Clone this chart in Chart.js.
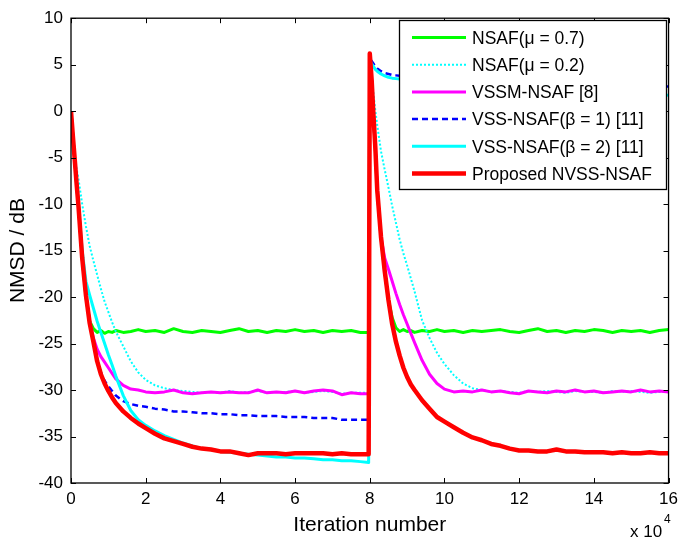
<!DOCTYPE html>
<html><head><meta charset="utf-8">
<script src="https://cdn.jsdelivr.net/npm/chart.js@4"></script>
<style>html,body{margin:0;padding:0;background:#fff}canvas{display:block}</style>
</head><body>
<canvas id="c" width="684" height="546"></canvas>
<script>
// Iteration number (x 10^4)
const xIter = [
 0, 0.05, 0.1, 0.15, 0.2, 0.3, 0.4, 0.5, 0.6, 0.7, 0.8, 0.9, 1.0, 1.1, 1.2, 1.4, 1.6, 1.8, 2.0, 2.25, 2.5, 2.75,
 3.0, 3.25, 3.5, 3.75, 4.0, 4.25, 4.5, 4.75, 5.0, 5.25, 5.5, 5.75, 6.0, 6.25, 6.5, 6.75, 7.0, 7.25, 7.5, 7.75, 7.97,
 8.0, 8.05, 8.1, 8.15, 8.2, 8.3, 8.4, 8.5, 8.6, 8.7, 8.8, 8.9, 9.0, 9.1, 9.2, 9.4, 9.6, 9.8, 10.0, 10.25, 10.5, 10.75,
 11.0, 11.25, 11.5, 11.75, 12.0, 12.25, 12.5, 12.75, 13.0, 13.25, 13.5, 13.75, 14.0, 14.25, 14.5, 14.75, 15.0, 15.25, 15.5, 15.75, 16.0
];
// NMSD (dB)
const nsaf07 = [
 0, -2.7, -5.2, -7.8, -10.2, -15.8, -20.0, -22.6, -23.4, -23.8, -23.6, -23.9, -23.7, -23.8, -23.6, -23.8, -23.7, -23.5, -23.7, -23.6, -23.8, -23.4,
 -23.7, -23.8, -23.6, -23.7, -23.8, -23.6, -23.4, -23.7, -23.6, -23.8, -23.6, -23.7, -23.5, -23.7, -23.6, -23.8, -23.6, -23.7, -23.6, -23.8, -23.8,
 6.0, 3.2, -0.7, -4.2, -8.6, -13.6, -17.3, -20.3, -22.2, -23.3, -23.7, -23.5, -23.7, -23.6, -23.8, -23.6, -23.7, -23.5, -23.7, -23.6, -23.8, -23.6,
 -23.7, -23.6, -23.5, -23.7, -23.8, -23.6, -23.4, -23.7, -23.6, -23.8, -23.6, -23.7, -23.5, -23.6, -23.8, -23.6, -23.7, -23.6, -23.8, -23.6, -23.5
];
const nsaf02 = [
 0, -3.2, -4.9, -6.2, -7.3, -10.0, -12.4, -14.5, -16.1, -17.6, -19.1, -20.5, -21.6, -22.7, -23.7, -25.3, -26.9, -28.1, -28.9, -29.5, -29.8, -30.0,
 -30.1, -30.2, -30.3, -30.2, -30.3, -30.1, -30.3, -30.2, -30.1, -30.3, -30.2, -30.2, -30.1, -30.3, -30.2, -30.1, -30.2, -30.4, -30.3, -30.3, -30.3,
 6.0, 4.0, 1.8, 0.0, -1.5, -4.3, -6.3, -8.2, -10.2, -12.0, -13.8, -15.3, -16.6, -18.0, -19.4, -22.5, -24.4, -26.0, -27.2, -28.4, -29.3, -29.8,
 -30.0, -30.2, -30.1, -30.2, -30.3, -30.1, -30.2, -30.1, -30.2, -30.3, -30.1, -30.2, -30.2, -30.3, -30.1, -30.2, -30.1, -30.2, -30.3, -30.2, -30.2
];
const vssm = [
 0, -2.7, -5.2, -7.8, -10.2, -15.8, -19.8, -22.7, -24.4, -25.6, -26.4, -27.0, -27.6, -28.2, -28.8, -29.5, -29.9, -30.0, -30.2, -30.3, -30.2, -30.0,
 -30.3, -30.4, -30.3, -30.2, -30.3, -30.2, -30.3, -30.3, -30.0, -30.3, -30.2, -30.3, -30.1, -30.3, -30.1, -30.0, -30.1, -30.5, -30.3, -30.4, -30.4,
 6.0, 3.3, -0.6, -4.1, -8.5, -13.5, -15.8, -17.0, -18.3, -19.6, -20.8, -21.9, -22.9, -23.9, -24.9, -26.8, -28.3, -29.3, -29.9, -30.2, -30.1, -30.2,
 -30.0, -30.2, -30.1, -30.3, -30.4, -30.1, -30.2, -30.3, -30.1, -30.2, -30.0, -30.2, -30.1, -30.3, -30.2, -30.1, -30.2, -30.0, -30.2, -30.1, -30.2
];
const vssB1 = [
 0, -2.7, -5.2, -7.8, -10.2, -15.8, -19.8, -22.8, -24.8, -26.8, -28.1, -29.0, -29.6, -30.1, -30.6, -31.2, -31.5, -31.7, -31.8, -32.0, -32.1, -32.3,
 -32.3, -32.4, -32.5, -32.5, -32.6, -32.6, -32.7, -32.7, -32.8, -32.8, -32.8, -32.9, -32.9, -32.9, -33.0, -33.0, -33.0, -33.2, -33.2, -33.2, -33.2,
 5.6, 5.4, 5.1, 4.8, 4.6, 4.3, 4.1, 4.0, 3.9, 3.85, 3.8, 3.8, 3.75, 3.7, 3.7, 3.6, 3.55, 3.5, 3.45, 3.4, 3.35, 3.3,
 3.25, 3.2, 3.15, 3.1, 3.05, 3.0, 3.0, 2.95, 2.9, 2.9, 2.85, 2.85, 2.8, 2.8, 2.75, 2.75, 2.7, 2.7, 2.7, 2.65, 2.65
];
const vssB2 = [
 0, -2.7, -5.2, -7.8, -10.2, -15.0, -18.3, -19.8, -21.2, -22.6, -23.8, -25.0, -26.2, -27.3, -28.5, -30.6, -32.2, -33.2, -33.8, -34.4, -34.9, -35.3,
 -35.7, -36.0, -36.3, -36.4, -36.6, -36.7, -36.8, -36.9, -37.0, -37.1, -37.2, -37.2, -37.3, -37.3, -37.4, -37.5, -37.5, -37.6, -37.6, -37.7, -37.8,
 5.4, 5.1, 4.8, 4.5, 4.3, 4.0, 3.8, 3.65, 3.55, 3.5, 3.45, 3.4, 3.35, 3.3, 3.25, 3.15, 3.05, 3.0, 2.9, 2.85, 2.8, 2.7,
 2.65, 2.6, 2.55, 2.5, 2.45, 2.4, 2.35, 2.3, 2.3, 2.25, 2.2, 2.15, 2.1, 2.1, 2.05, 2.0, 2.0, 1.95, 1.9, 1.9, 1.7
];
const proposed = [
 0, -2.7, -5.2, -7.8, -10.2, -15.8, -19.8, -22.8, -24.8, -26.9, -28.3, -29.3, -30.1, -30.8, -31.4, -32.3, -33.0, -33.6, -34.1, -34.7, -35.2, -35.5,
 -35.8, -36.1, -36.3, -36.4, -36.6, -36.6, -36.8, -37.0, -36.8, -36.8, -36.8, -36.9, -36.8, -36.8, -36.8, -36.8, -36.9, -36.8, -36.9, -36.9, -36.9,
 6.2, 3.4, -0.5, -4.0, -8.5, -13.5, -17.2, -20.3, -22.9, -24.8, -26.3, -27.6, -28.6, -29.4, -30.0, -31.1, -32.0, -32.9, -33.4, -34.0, -34.6, -35.1,
 -35.4, -35.8, -36.0, -36.3, -36.5, -36.5, -36.6, -36.6, -36.4, -36.6, -36.6, -36.7, -36.7, -36.7, -36.8, -36.7, -36.8, -36.8, -36.7, -36.8, -36.8
];
const seriesNames = ['NSAF(\u03bc = 0.7)', 'NSAF(\u03bc = 0.2)', 'VSSM-NSAF [8]', 'VSS-NSAF(\u03b2 = 1) [11]', 'VSS-NSAF(\u03b2 = 2) [11]', 'Proposed NVSS-NSAF'];
const seriesData = [nsaf07, nsaf02, vssm, vssB1, vssB2, proposed];
const xAxisTitle = 'Iteration number';
const yAxisTitle = 'NMSD / dB';
const xExponent = '4';

const FONT = '"Liberation Sans", Arial, Helvetica, sans-serif';
const styles = [
  {color:'#00ff00', width:3,   dash:[],    order:5},
  {color:'#00ffff', width:2,   dash:[2,2], order:4},
  {color:'#ff00ff', width:3,   dash:[],    order:3},
  {color:'#0000ff', width:2.5, dash:[6,4], order:2},
  {color:'#00ffff', width:3,   dash:[],    order:1},
  {color:'#ff0000', width:4.5, dash:[],    order:0}
];

const frame = {
  id: 'frame',
  afterDraw(chart) {
    const {ctx, chartArea: a, scales: {x, y}} = chart;
    ctx.save();
    // box
    ctx.strokeStyle = '#000';
    ctx.lineWidth = 1.3;
    ctx.setLineDash([]);
    ctx.strokeRect(a.left, a.top, a.right - a.left, a.bottom - a.top);
    // inward ticks
    ctx.lineWidth = 1;
    const L = 5;
    ctx.beginPath();
    x.ticks.forEach(t => {
      const px = Math.round(x.getPixelForValue(t.value)) + 0.5;
      ctx.moveTo(px, a.bottom); ctx.lineTo(px, a.bottom - L);
      ctx.moveTo(px, a.top); ctx.lineTo(px, a.top + L);
    });
    y.ticks.forEach(t => {
      const py = Math.round(y.getPixelForValue(t.value)) + 0.5;
      ctx.moveTo(a.left, py); ctx.lineTo(a.left + L, py);
      ctx.moveTo(a.right, py); ctx.lineTo(a.right - L, py);
    });
    ctx.stroke();

    // legend
    const lx = 399.5, ly = 20.5, lw = 267, lh = 169;
    ctx.fillStyle = '#fff';
    ctx.fillRect(lx, ly, lw, lh);
    ctx.lineWidth = 1.3;
    ctx.strokeStyle = '#000';
    ctx.strokeRect(lx, ly, lw, lh);
    ctx.font = '17.5px ' + FONT;
    ctx.textBaseline = 'middle';
    ctx.textAlign = 'left';
    seriesNames.forEach((n, i) => {
      const ry = 37.5 + i * 27.2;
      const s = styles[i];
      ctx.beginPath();
      ctx.strokeStyle = s.color;
      ctx.lineWidth = s.width;
      ctx.setLineDash(s.dash);
      ctx.moveTo(412, ry); ctx.lineTo(466, ry);
      ctx.stroke();
      ctx.setLineDash([]);
      ctx.fillStyle = '#000';
      ctx.fillText(n, 472, ry + 1.5);
    });

    // exponent label
    ctx.fillStyle = '#000';
    ctx.textBaseline = 'alphabetic';
    ctx.font = '17px ' + FONT;
    ctx.fillText('x 10', 630, 537);
    ctx.font = '12px ' + FONT;
    ctx.fillText(xExponent, 664, 523);
    ctx.restore();
  }
};

new Chart(document.getElementById('c'), {
  type: 'line',
  data: {
    datasets: seriesNames.map((n, i) => ({
      label: n,
      data: xIter.map((xv, k) => ({x: xv, y: seriesData[i][k]})),
      borderColor: styles[i].color,
      backgroundColor: styles[i].color,
      borderWidth: styles[i].width,
      borderDash: styles[i].dash,
      order: styles[i].order,
      pointRadius: 0,
      tension: 0,
      fill: false,
      borderJoinStyle: 'round'
    }))
  },
  options: {
    responsive: false,
    animation: false,
    devicePixelRatio: 1,
    layout: {padding: {top: 11, right: 12, left: 0, bottom: 0}},
    plugins: {legend: {display: false}, tooltip: {enabled: false}},
    scales: {
      x: {
        type: 'linear', min: 0, max: 16,
        ticks: {stepSize: 2, color: '#000', font: {family: FONT, size: 17}, padding: 6, maxRotation: 0},
        grid: {display: false, drawTicks: false},
        border: {display: false},
        title: {display: true, text: xAxisTitle, color: '#000', font: {family: FONT, size: 21}, padding: {top: 0, bottom: 8}},
        afterFit(s) { s.height = 63; }
      },
      y: {
        type: 'linear', min: -40, max: 10,
        ticks: {stepSize: 5, color: '#000', font: {family: FONT, size: 17}, padding: 8},
        grid: {display: false, drawTicks: false},
        border: {display: false},
        title: {display: true, text: yAxisTitle, color: '#000', font: {family: FONT, size: 21}, padding: {top: 6, bottom: 0}},
        afterFit(s) { s.width = 71; }
      }
    }
  },
  plugins: [frame]
});
</script>
</body></html>
